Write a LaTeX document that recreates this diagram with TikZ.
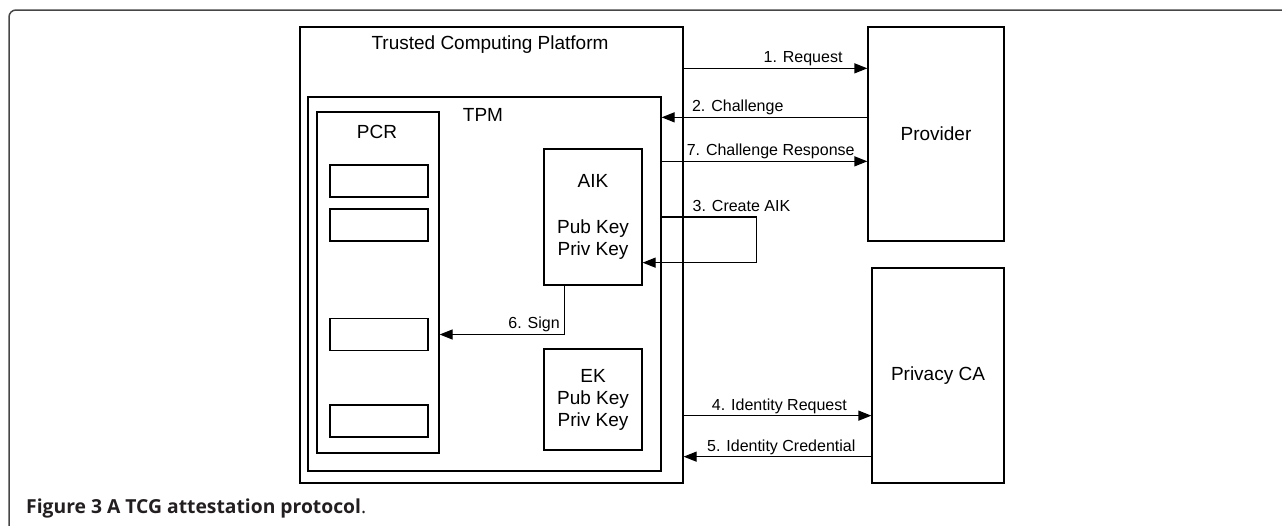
\documentclass[tikz,border=0pt]{standalone}
\usepackage{fontspec}
\setmainfont{Liberation Sans}
\newfontfamily\capfont{Open Sans}
\usetikzlibrary{arrows.meta, positioning, calc}
\definecolor{framegray}{RGB}{70,70,70}
\definecolor{capgray}{RGB}{35,31,32}
\tikzset{
  box/.style={draw, line width=1.3pt, inner sep=0pt},
  lbl/.style={font=\fontsize{19}{22}\selectfont, align=center},
  msg/.style={font=\fontsize{16}{18}\selectfont, inner sep=0pt, text height=12pt, text depth=4pt},
  arr/.style={line width=1.3pt, -{Triangle[length=13pt,width=10pt]}},
}
\begin{document}
\begin{tikzpicture}[x=1pt, y=-1pt]
  \clip (0,0) rectangle (1282,525);

  % Frame
  \draw[framegray, line width=1.5pt, rounded corners=7pt] (9,540) -- (9,10) -- (1300,10);

  % Platform and TPM
  \node[box, minimum width=383pt, minimum height=456pt] (tcp) at (491.5,255) {};
  \node[lbl] (tcplbl) at (490,45) {Trusted Computing Platform};
  \node[box, minimum width=353pt, minimum height=374pt] (tpm) at (484.5,284) {};
  \node[lbl] (tpmlbl) at (483,115) {TPM};

  % PCR registers
  \node[box, minimum width=122pt, minimum height=341pt] (pcr) at (378,282.5) {};
  \node[lbl] (pcrlbl) at (377,132) {PCR};
  \node[box, minimum width=98pt, minimum height=32pt] (slot1) at (379,181) {};
  \node[box, minimum width=98pt, minimum height=32pt] (slot2) at (379,225) {};
  \node[box, minimum width=98pt, minimum height=32pt] (slot3) at (379,334.5) {};
  \node[box, minimum width=98pt, minimum height=32pt] (slot4) at (379,421) {};

  % Keys
  \node[box, lbl, minimum width=98pt, minimum height=136pt] (aik) at (593,217) {AIK\\[24pt]Pub Key\\Priv Key};
  \node[box, lbl, minimum width=98pt, minimum height=101pt] (ek) at (593,399.5) {EK\\Pub Key\\Priv Key};

  % Outside parties
  \node[box, lbl, minimum width=136pt, minimum height=214pt] (provider) at (936,134) {Provider};
  \node[box, lbl, minimum width=132pt, minimum height=215pt] (privca) at (938,375.5) {Privacy CA};

  % Message levels
  \coordinate (req) at ($(provider.north west)+(0,42)$);
  \coordinate (chal) at ($(provider.north west)+(0,91)$);
  \coordinate (resp) at ($(provider.north west)+(0,135)$);
  \coordinate (idreq) at ($(privca.south west)+(0,-68)$);
  \coordinate (idcred) at ($(privca.south west)+(0,-27)$);
  \coordinate (signfrom) at ($(aik.south west)+(21,0)$);
  \coordinate (aikin) at ($(aik.south east)+(0,-23)$);

  % Messages
  \draw[arr] (tcp.east |- req) -- (req) node[msg, pos=0.65, above=1pt] {1. Request};
  \draw[arr] (chal) -- (tpm.east |- chal) node[msg, pos=0.63, above=1pt] {2. Challenge};
  \draw[arr] (tpm.east |- resp) -- (resp) node[msg, pos=0.53, above=1pt] {7. Challenge Response};
  \draw[arr] (tpm.east |- aik.east) -- ++(95,0) node[msg, pos=0.84, above=1pt] {3. Create AIK} |- (aikin);
  \draw[arr] (tcp.east |- idreq) -- (idreq) node[msg, pos=0.51, above=1pt] {4. Identity Request};
  \draw[arr] (idcred) -- (tcp.east |- idcred) node[msg, pos=0.48, above=1pt] {5. Identity Credential};
  \draw[arr] (signfrom) |- (pcr.east |- slot3) node[msg, pos=0.5, anchor=south east, xshift=-4pt, yshift=1pt] {6. Sign};

  % Caption
  \node[anchor=west, inner sep=0pt, text=capgray, font=\capfont\fontsize{19.3}{21}\selectfont] (caption) at (26,508)
    {\textbf{Figure 3 A TCG attestation protocol}.};
\end{tikzpicture}
\end{document}
